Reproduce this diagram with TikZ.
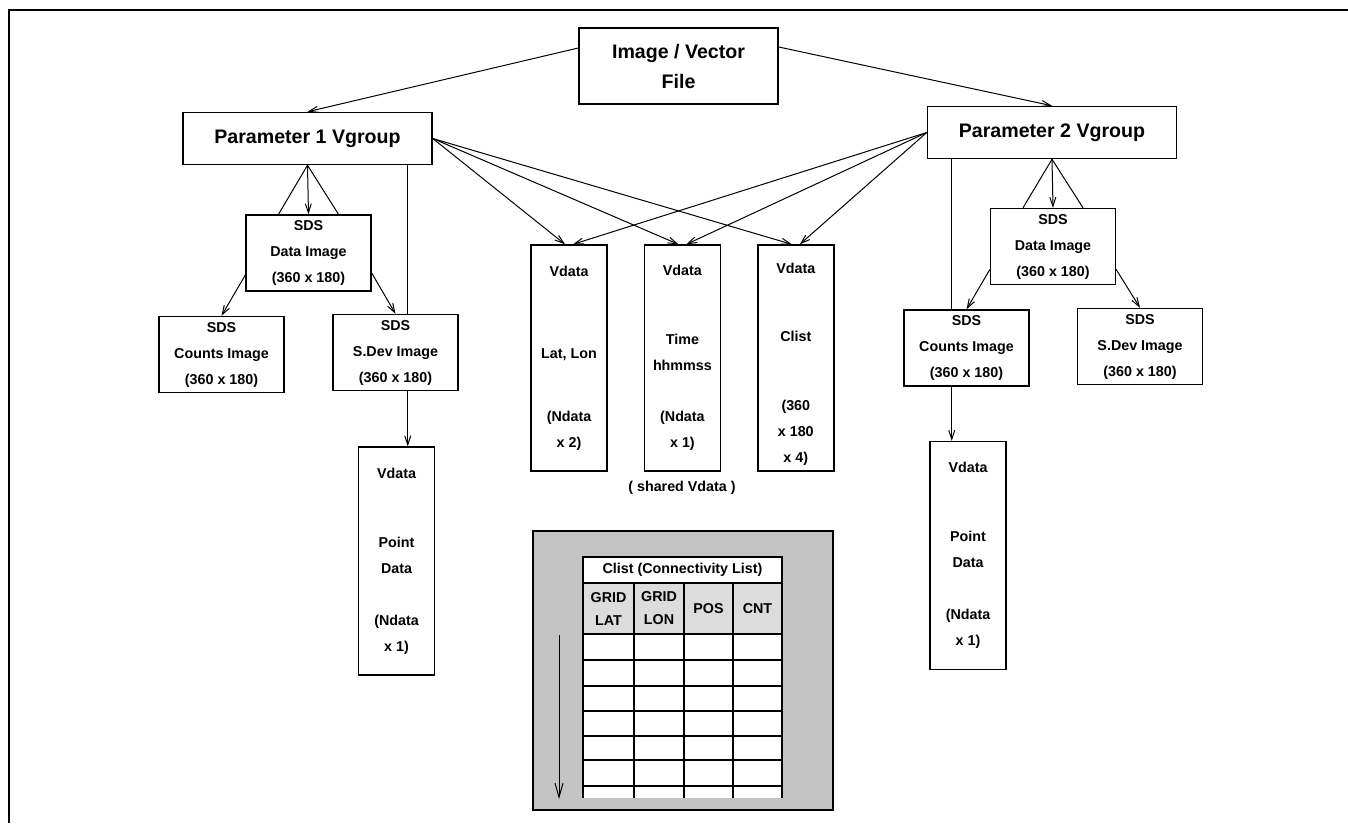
\documentclass[tikz,border=0pt]{standalone}
\usepackage{fontspec}
\setmainfont{Liberation Sans}
\usepackage{xcolor}
\usetikzlibrary{arrows.meta, positioning, calc}
\definecolor{panelgray}{HTML}{C4C4C4}
\definecolor{headgray}{HTML}{DCDCDC}
\newcommand{\grpfont}{\fontsize{19.6}{30}\selectfont\bfseries}
\newcommand{\boxfont}{\fontsize{14.3}{26}\selectfont\bfseries}
\tikzstyle{group} = [rectangle, draw=black, line width=1.5pt, minimum width=249pt, minimum height=52pt, align=center, font=\grpfont, inner sep=0pt]
\tikzstyle{sds} = [rectangle, draw=black, line width=1.4pt, minimum width=125pt, minimum height=76pt, align=center, font=\boxfont, inner sep=0pt]
\tikzstyle{vdata} = [rectangle, draw=black, line width=1.4pt, minimum width=76pt, minimum height=226pt, align=center, font=\boxfont, inner sep=0pt]
\tikzstyle{arrow} = [line width=1pt, -{Straight Barb[length=9pt,width=6pt]}]
\tikzstyle{link} = [line width=1pt]

\begin{document}
\begin{tikzpicture}[x=1pt, y=-1pt]
    \useasboundingbox (0,0) rectangle (1348,823);
    \draw[line width=1.2pt] (9,823) -- (9,10) -- (1348,10);

    % file and the two groups
    \node (img) [group, minimum width=199pt, minimum height=76pt] at (678.5,66) {Image / Vector\\File};
    \node (p1) [group] at (307.5,138.5) {Parameter 1 Vgroup};
    \node (p2) [group] at (1052,132.5) {Parameter 2 Vgroup};

    \draw [arrow] ([yshift=18pt]img.west) -- (p1.north);
    \draw [arrow] ([yshift=19pt]img.east) -- (p2.north);

    % Parameter 1 (left)
    \node (sdsA) [sds] at (308.5,253) {SDS\\Data Image\\(360 x 180)};
    \node (countsA) [sds] at (221.5,354.5) {SDS\\Counts Image\\(360 x 180)};
    \node (sdevA) [sds] at (395.5,352.5) {SDS\\S.Dev Image\\(360 x 180)};
    \node (ptA) [vdata, minimum height=228pt] at (396.5,561) {Vdata\\[43pt]Point\\Data\\[26pt](Ndata\\x 1)};
    \coordinate (colA) at ([xshift=-25pt]p1.south east);

    \draw [link] ([xshift=-30pt]sdsA.north) -- (p1.south) -- ([xshift=30pt]sdsA.north);
    \draw [arrow] (p1.south) -- (sdsA.north);
    \draw [arrow] ([yshift=-22pt]sdsA.west) -- (countsA.north);
    \draw [arrow] ([yshift=-20pt]sdsA.east) -- (sdevA.north);
    \draw [link] (colA) -- (colA |- sdevA.north);
    \draw [arrow] (colA |- sdevA.south) -- (colA |- ptA.north);

    % shared Vdata
    \node (vdLL) [vdata] at (569,358) {Vdata\\[56pt]Lat, Lon\\[37pt](Ndata\\x 2)};
    \node (vdTime) [vdata, right=36pt of vdLL] {Vdata\\[43pt]Time\\hhmmss\\[25pt](Ndata\\x 1)};
    \node (vdClist) [vdata, right=36pt of vdTime] {\rule{0pt}{23pt}Vdata\\[42pt]Clist\\[43pt](360\\x 180\\x 4)};
    \node (shared) [font=\boxfont, inner sep=0pt] at (682,488) {( shared Vdata )};

    \foreach \t in {vdLL,vdTime,vdClist} {
        \draw [arrow] (p1.east) -- ([xshift=-4pt]\t.north);
        \draw [arrow] (p2.west) -- ([xshift=4pt]\t.north);
    }

    % Parameter 2 (right)
    \node (sdsB) [sds] at (1053,246.5) {SDS\\Data Image\\(360 x 180)};
    \node (countsB) [sds] at (966.5,348) {SDS\\Counts Image\\(360 x 180)};
    \node (sdevB) [sds] at (1140,346.5) {SDS\\S.Dev Image\\(360 x 180)};
    \node (ptB) [vdata, minimum height=228pt] at (968,555.5) {Vdata\\[43pt]Point\\Data\\[26pt](Ndata\\x 1)};
    \coordinate (colB) at ([xshift=25pt]p2.south west);

    \draw [link] ([xshift=-30pt]sdsB.north) -- (p2.south) -- ([xshift=30pt]sdsB.north);
    \draw [arrow] (p2.south) -- (sdsB.north);
    \draw [arrow] ([yshift=-23pt]sdsB.west) -- (countsB.north);
    \draw [arrow] ([yshift=-23pt]sdsB.east) -- (sdevB.north);
    \draw [link] (colB) -- (colB |- countsB.north);
    \draw [arrow] (colB |- countsB.south) -- (colB |- ptB.north);

    % connectivity list
    \node (panel) [draw=black, line width=1.4pt, fill=panelgray, minimum width=300pt, minimum height=279pt, inner sep=0pt] at (683,670.5) {};
    \fill[white] (583,557) rectangle (782,798);
    \fill[headgray] (583,583) rectangle (782,634);
    \draw[line width=1.2pt] (583,798) -- (583,557) -- (782,557) -- (782,798);
    \draw[line width=1.2pt] (583,583) -- (782,583);
    \foreach \y in {634,660,686,711,736,760,786}
        \draw[line width=1.2pt] (583,\y) -- (782,\y);
    \foreach \x in {634,684,733}
        \draw[line width=1.2pt] (\x,583) -- (\x,798);
    \node (cltitle) [font=\boxfont, inner sep=0pt] at (682.5,570) {Clist (Connectivity List)};
    \node (hLat) [font=\boxfont, align=center, inner sep=0pt] at (608.5,608.5) {GRID\\[-3pt]LAT};
    \node (hLon) [font=\boxfont, align=center, inner sep=0pt] at (659,608.5) {GRID\\[-3pt]LON};
    \node (hPos) [font=\boxfont, inner sep=0pt] at (708.5,608.5) {POS};
    \node (hCnt) [font=\boxfont, inner sep=0pt] at (757.5,608.5) {CNT};
    \draw [line width=1pt, -{Straight Barb[length=14pt,width=8pt]}] (559,635) -- (559,799);
\end{tikzpicture}
\end{document}
